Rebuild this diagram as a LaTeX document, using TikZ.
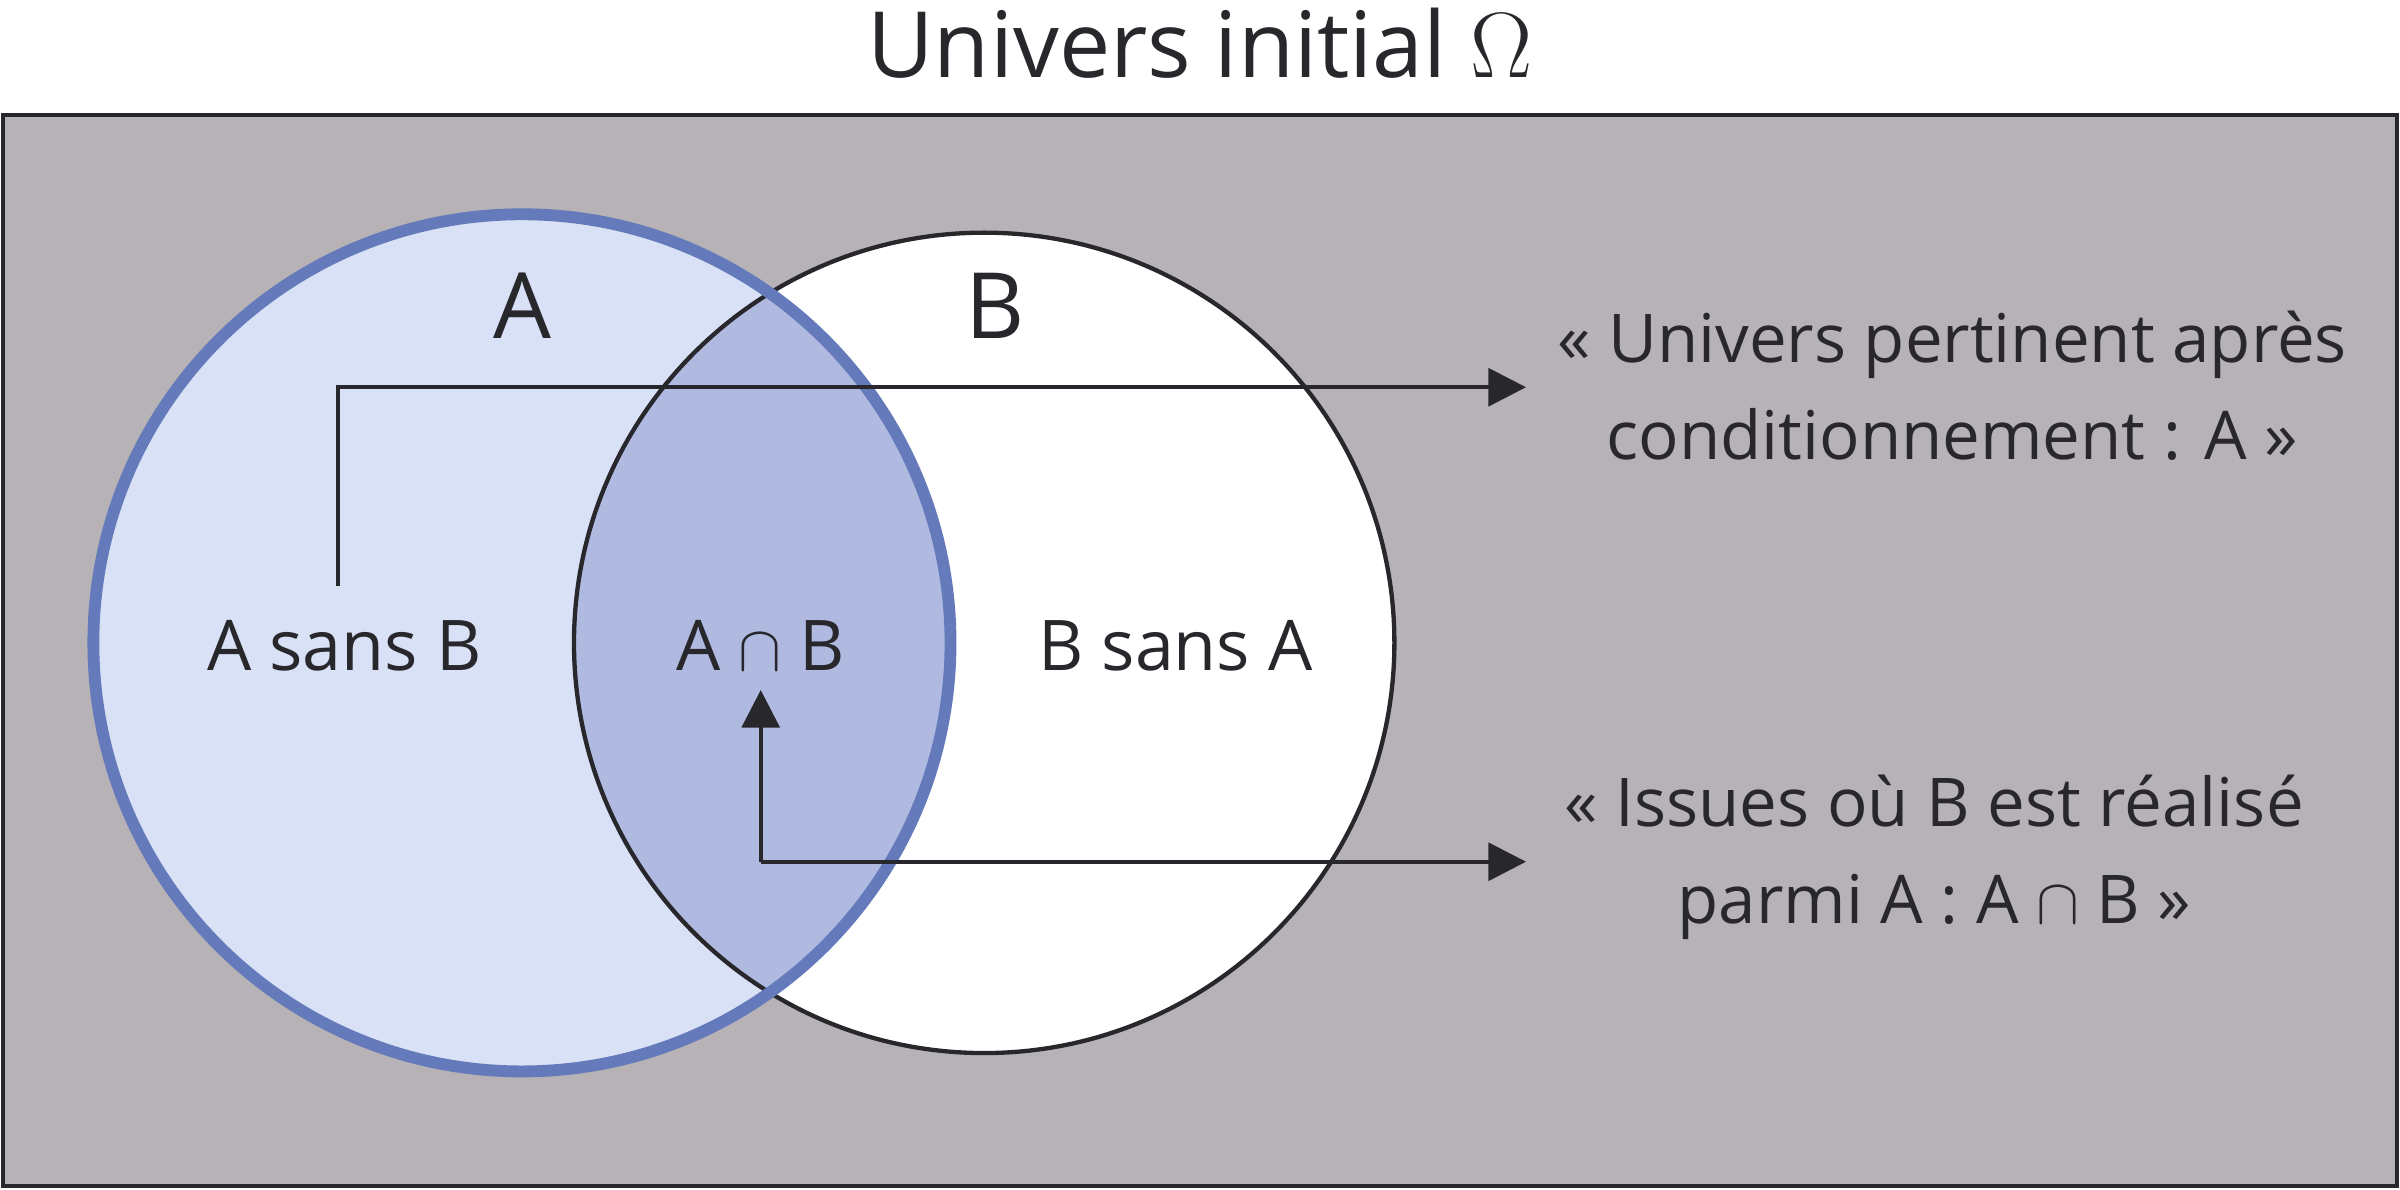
\documentclass[tikz,border=0pt]{standalone}
\usepackage{fontspec}
\setmainfont{Open Sans}
\usetikzlibrary{arrows.meta}
\definecolor{omegagray}{RGB}{183,178,181}
\definecolor{afill}{RGB}{216,225,246}
\definecolor{aline}{RGB}{100,122,186}
\definecolor{abfill}{RGB}{176,186,225}
\definecolor{ink}{RGB}{40,40,44}
\begin{document}
\begin{tikzpicture}[x=1cm,y=-1cm]
\tikzset{lbl/.style={font=\fontsize{13}{15}\selectfont, text=ink},
  note/.style={font=\fontsize{12.5}{18}\selectfont, text=ink, align=center},
  conn/.style={-{Triangle[length=7pt,width=7pt]}, draw=ink, line width=0.8pt}}
\useasboundingbox (0,0) rectangle (15.68,7.77);

% univers
\node[font=\fontsize{17}{20}\selectfont, text=ink] (title) at (7.84,0.28) {Univers initial $\Omega$};
\draw[fill=omegagray, draw=ink, line width=0.8pt] (0.02,0.75) rectangle (15.66,7.75);

% ensembles A et B
\fill[afill] (3.41,4.2) circle (2.8);
\fill[white] (6.43,4.2) circle (2.68);
\begin{scope}
  \clip (3.41,4.2) circle (2.8);
  \fill[abfill] (6.43,4.2) circle (2.68);
\end{scope}
\draw[ink, line width=0.8pt] (6.43,4.2) circle (2.68);
\draw[aline, line width=2.2pt] (3.41,4.2) circle (2.8);

\node[lbl, font=\fontsize{17}{20}\selectfont] (A) at (3.41,2.0) {A};
\node[lbl, font=\fontsize{17}{20}\selectfont] (B) at (6.5,2.0) {B};
\node[lbl] (AsB) at (2.25,4.22) {A sans B};
\node[lbl] (AB) at (4.97,4.22) {A $\cap$ B};
\node[lbl] (BsA) at (7.68,4.22) {B sans A};

% commentaires
\node[note, anchor=west] (univ) at (10.05,2.52) {« Univers pertinent après\\conditionnement : A »};
\node[note, anchor=west] (issues) at (10.1,5.6) {« Issues où B est réalisé\\parmi A : A $\cap$ B »};

\coordinate (c1) at (2.21,3.83);
\coordinate (k1) at (2.21,2.53);
\coordinate (e1) at (9.97,2.53);
\coordinate (k2) at (4.97,5.63);
\coordinate (e2) at (9.97,5.63);
\draw[conn] (c1) -- (k1) -- (e1);
\draw[conn] (k2) -- (e2);
\draw[conn] (k2) -- (AB.south);
\end{tikzpicture}
\end{document}
